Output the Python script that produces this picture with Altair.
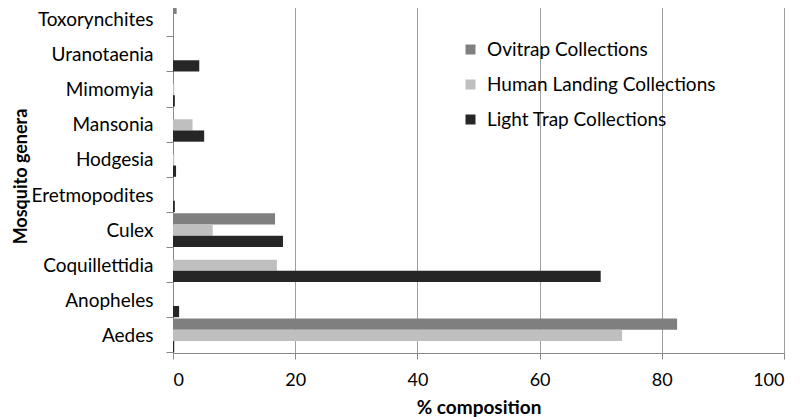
import altair as alt
import pandas as pd

genera = ["Toxorynchites", "Uranotaenia", "Mimomyia", "Mansonia", "Hodgesia",
          "Eretmopodites", "Culex", "Coquillettidia", "Anopheles", "Aedes"]
series = ["Ovitrap Collections", "Human Landing Collections", "Light Trap Collections"]
ovitrap = [0.6, 0.0, 0.0, 0.0, 0.0, 0.0, 16.7, 0.0, 0.0, 82.5]
human = [0.0, 0.0, 0.2, 3.2, 0.2, 0.0, 6.5, 17.0, 0.0, 73.5]
light = [0.0, 4.3, 0.3, 5.1, 0.5, 0.3, 18.0, 70.0, 1.0, 0.2]
colors = ["#7f7f7f", "#bfbfbf", "#262626"]

rows = []
for i, g in enumerate(genera):
    for s, vals in zip(series, [ovitrap, human, light]):
        rows.append({"genus": g, "series": s, "value": vals[i]})
df = pd.DataFrame(rows)

FONT = "Lato"

chart = alt.Chart(df).mark_bar().encode(
    y=alt.Y("genus:N", sort=genera,
            scale=alt.Scale(paddingInner=0.04, paddingOuter=0.02),
            axis=alt.Axis(title="Mosquito genera", tickBand="extent", tickSize=7,
                          labelFontSize=19, labelFont=FONT, labelColor="#000",
                          titleFont=FONT, titleFontSize=18, titleFontWeight="bold",
                          titleColor="#000", titleX=-152, titleY=174,
                          titleAngle=270, titleAlign="center", titleBaseline="middle",
                          labelPadding=13,
                          domainColor="#888", tickColor="#888")),
    yOffset=alt.YOffset("series:N", sort=series, scale=alt.Scale(paddingInner=0, paddingOuter=0)),
    x=alt.X("value:Q", scale=alt.Scale(domain=[0, 100]),
            axis=alt.Axis(title="% composition", values=[0, 20, 40, 60, 80, 100],
                          grid=True, gridColor="#a0a0a0", tickSize=6,
                          labelFontSize=18, labelFont=FONT, labelColor="#000",
                          titleFont=FONT, titleFontSize=19, titleFontWeight="bold",
                          titleColor="#000", titlePadding=9, labelPadding=12,
                          domainColor="#888", tickColor="#888")),
    color=alt.Color("series:N", sort=series,
                    scale=alt.Scale(domain=series, range=colors),
                    legend=alt.Legend(title=None, orient="none", legendX=288, legendY=38,
                                      symbolType="square", symbolSize=100,
                                      symbolStrokeWidth=0, labelLimit=0,
                                      labelFont=FONT, labelFontSize=19, labelColor="#000",
                                      rowPadding=15, labelOffset=7)),
).properties(
    width=611, height=351,
    autosize=alt.AutoSizeParams(type="none"),
    padding={"top": -6, "left": 165, "right": 8, "bottom": 72},
).configure_view(stroke=None)

chart.save("out.html", embed_options={"renderer": "svg", "actions": False})
